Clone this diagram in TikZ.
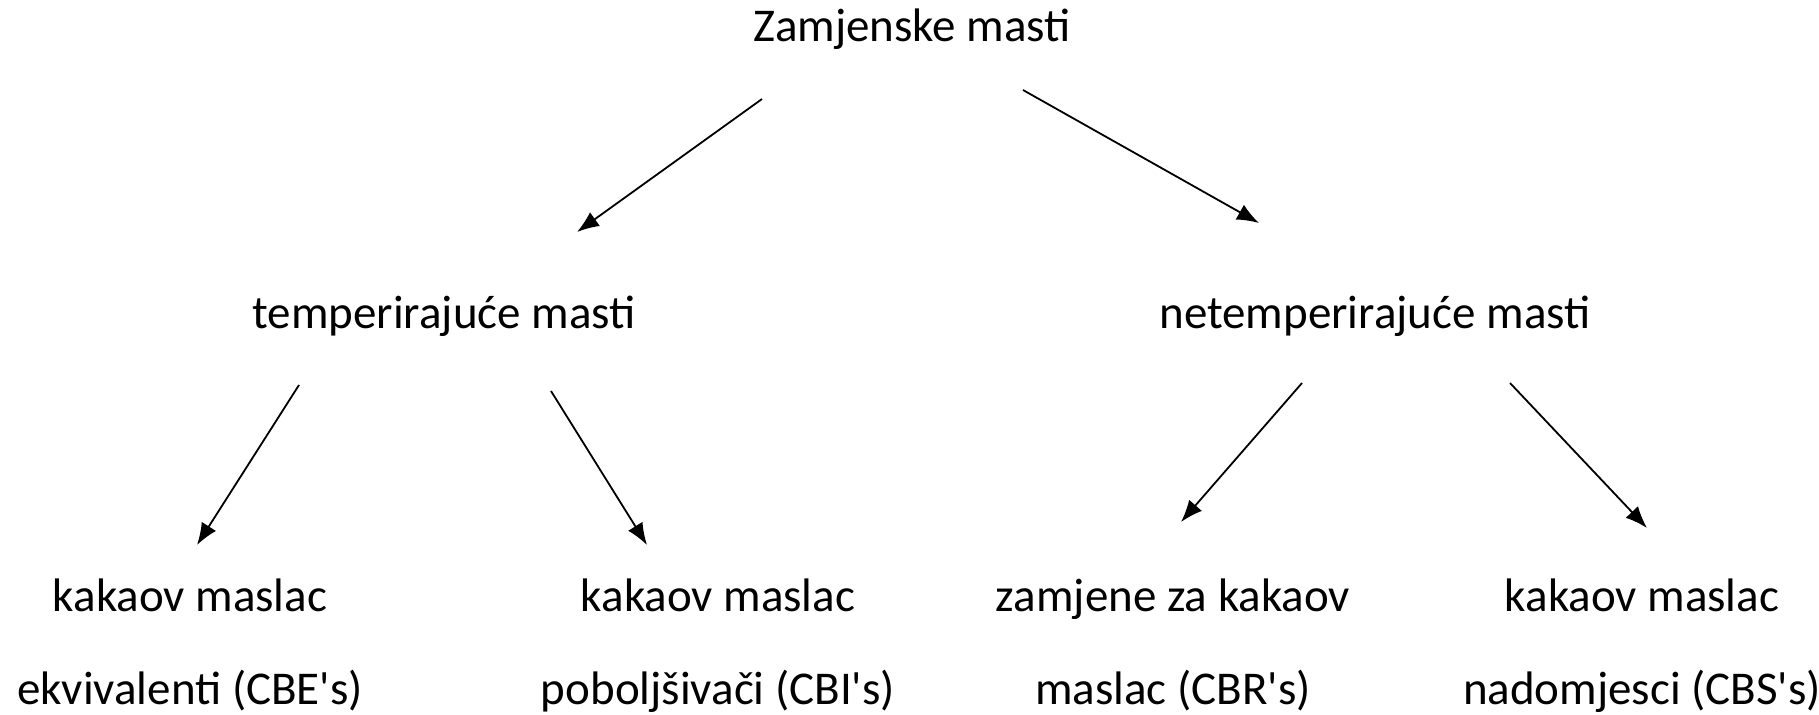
\documentclass[tikz,border=0pt]{standalone}
\usepackage{fontspec}
\setmainfont{Carlito}
\usetikzlibrary{arrows.meta,positioning}

\begin{document}
\begin{tikzpicture}[x=0.5pt, y=-0.5pt,
    lbl/.style={font=\fontsize{23.5}{28}\selectfont, inner sep=0pt, anchor=base},
    leaf/.style={font=\fontsize{23.5}{46.5}\selectfont, inner sep=0pt, anchor=base, align=center},
    arr/.style={-{Latex[length=11pt,width=8.5pt]}, line width=0.9pt, black}]
        \useasboundingbox (0,0) rectangle (1819,714);

        %% top
        \node[lbl] (zam) at (912,41) {Zamjenske masti};

        %% second row
        \node[lbl] (temp) at (444,328) {temperirajuće masti};
        \node[lbl] (netemp) at (1375,328) {netemperirajuće masti};

        %% leaves (base = last line)
        \node[leaf] (cbe) at (190,704) {kakaov maslac\\ekvivalenti (CBE\textquotesingle s)};
        \node[leaf] (cbi) at (718,704) {kakaov maslac\\poboljšivači (CBI\textquotesingle s)};
        \node[leaf] (cbr) at (1173,704) {zamjene za kakaov\\maslac (CBR\textquotesingle s)};
        \node[leaf] (cbs) at (1642,704) {kakaov maslac\\nadomjesci (CBS\textquotesingle s)};

        %% arrows
        \draw[arr] ([shift={(-150,58)}]zam.base) -- ([shift={(133,-96)}]temp.base);
        \draw[arr] ([shift={(111,49)}]zam.base) -- ([shift={(-116,-105)}]netemp.base);
        \draw[arr] ([shift={(-145,57)}]temp.base) -- ([shift={(7,-159)}]cbe.base);
        \draw[arr] ([shift={(107,63)}]temp.base) -- ([shift={(-71,-159)}]cbi.base);
        \draw[arr] ([shift={(-73,55)}]netemp.base) -- ([shift={(8,-182)}]cbr.base);
        \draw[arr] ([shift={(135,55)}]netemp.base) -- ([shift={(5,-176)}]cbs.base);
\end{tikzpicture}
\end{document}
